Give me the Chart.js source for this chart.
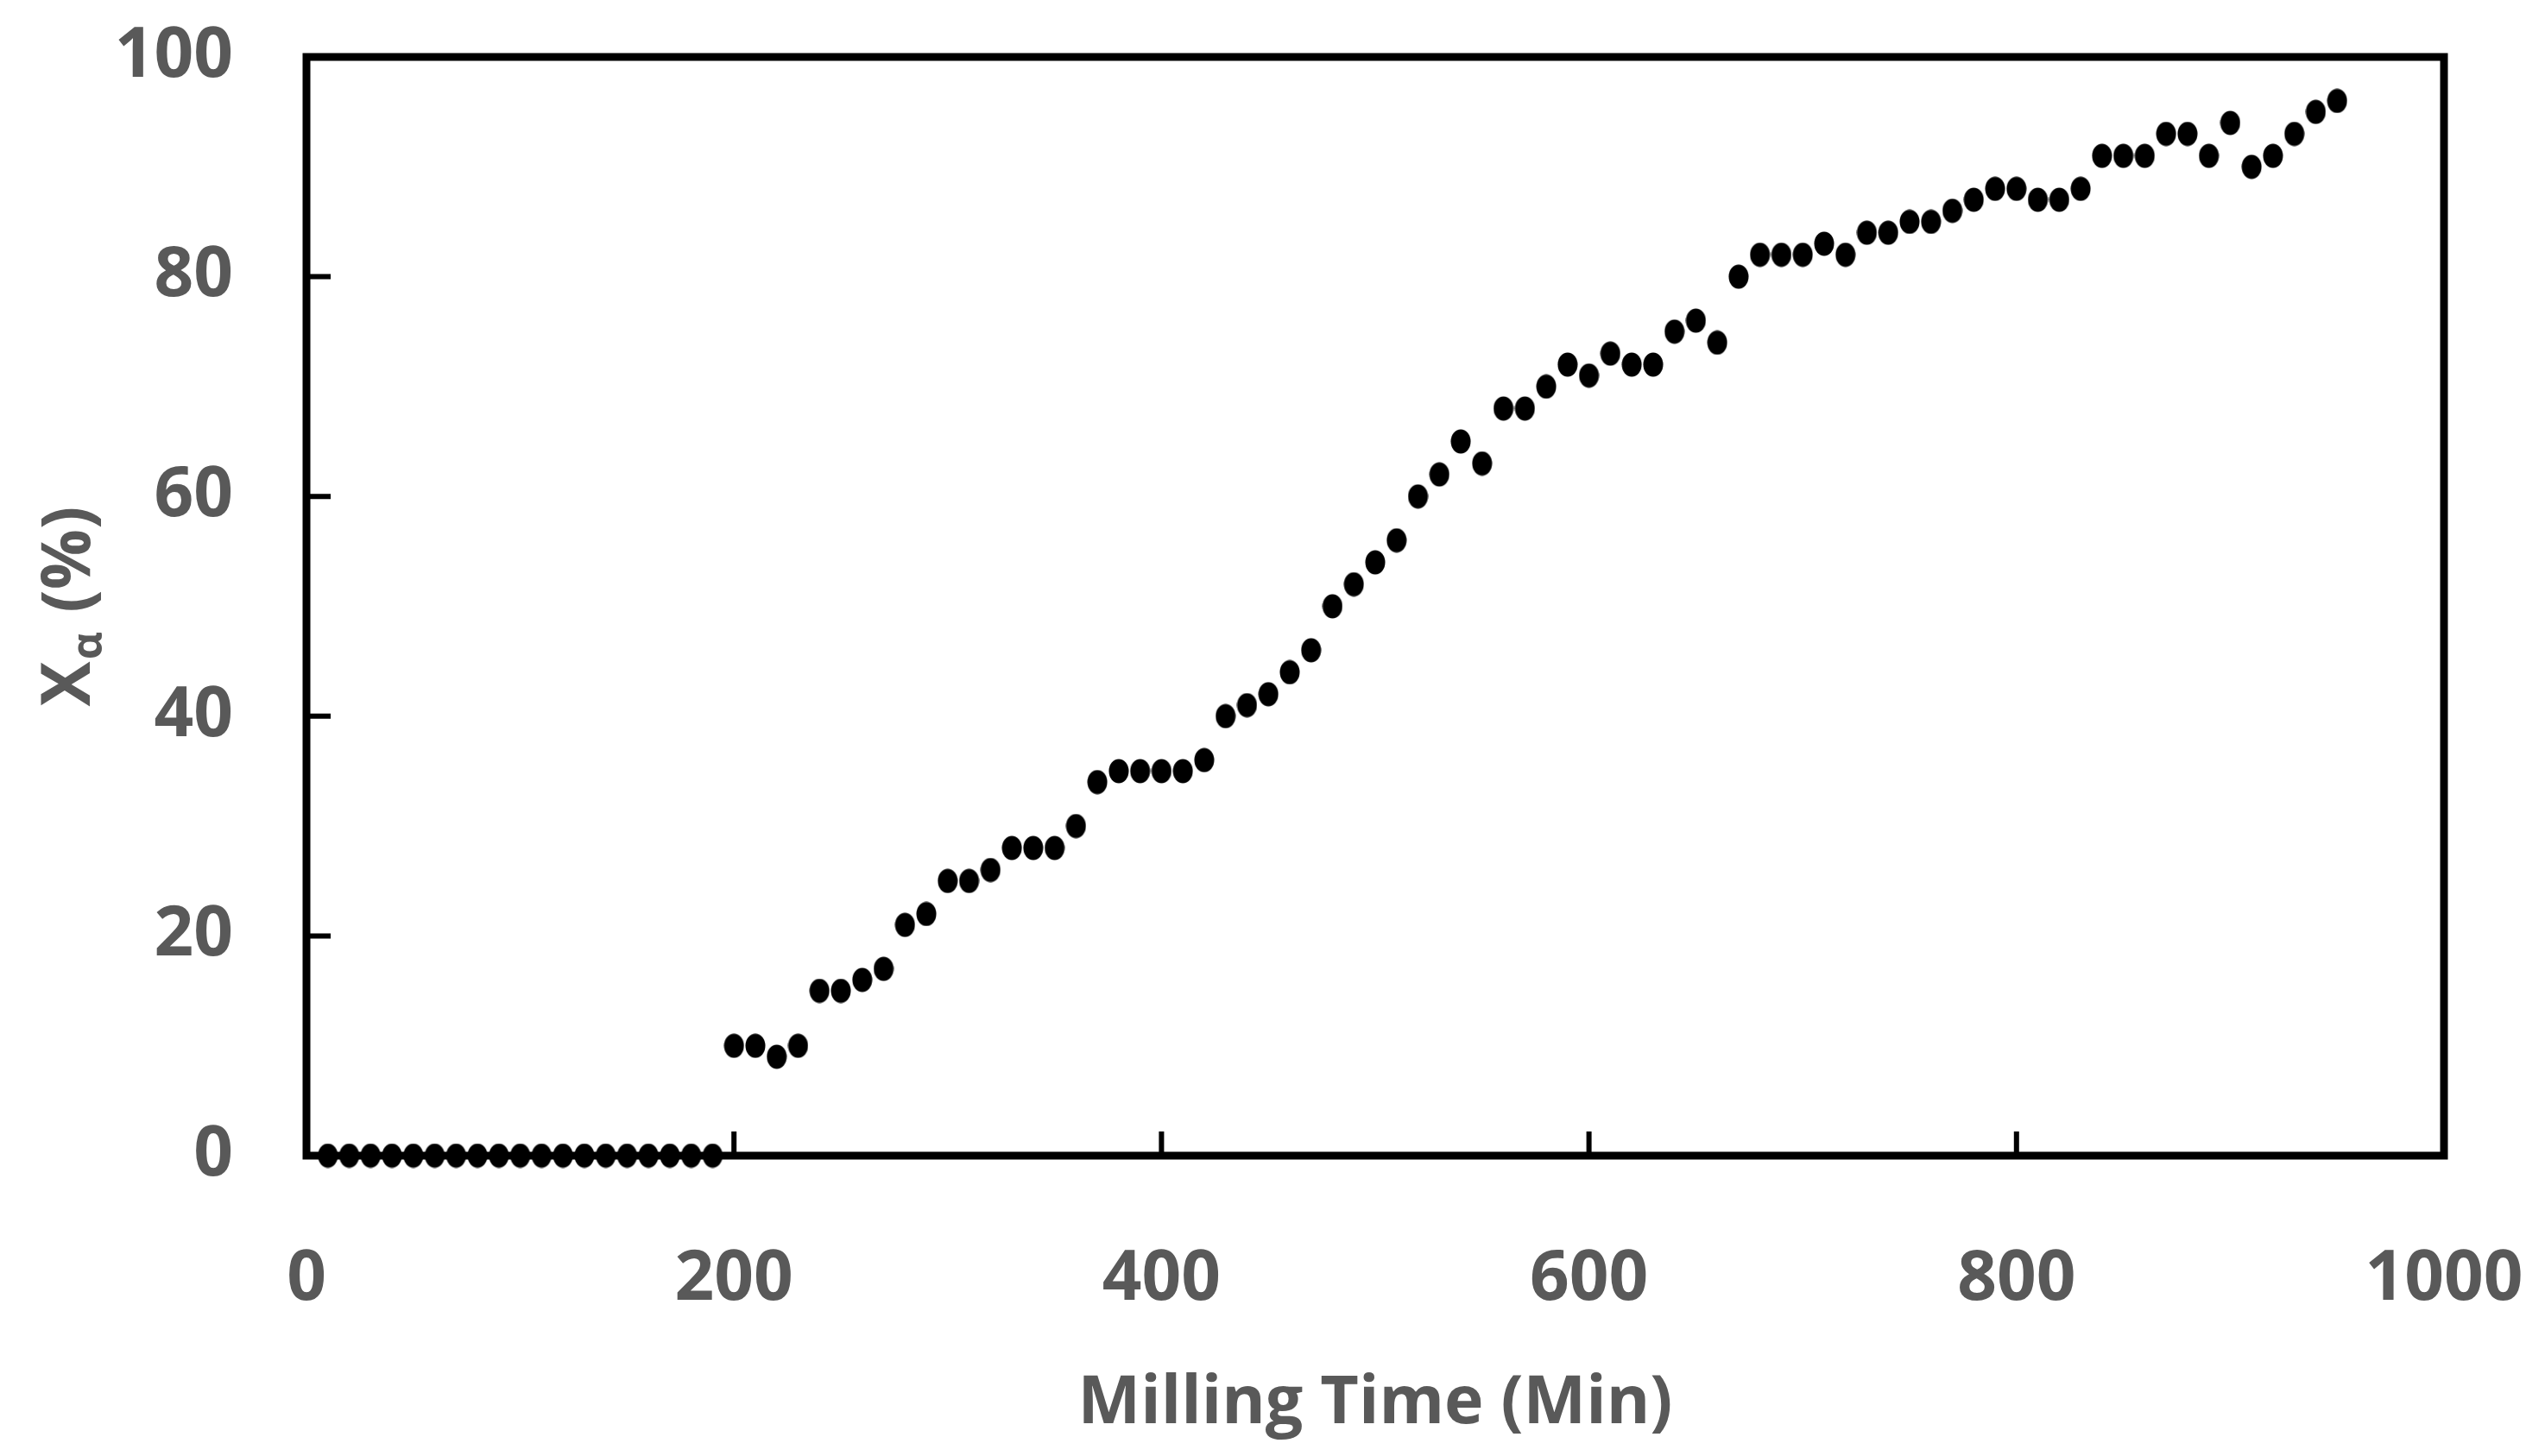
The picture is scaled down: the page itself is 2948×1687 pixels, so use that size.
<!DOCTYPE html>
<html>
<head>
<meta charset="utf-8">
<script src="https://cdn.jsdelivr.net/npm/chart.js@4.4.1/dist/chart.umd.min.js"></script>
<style>
  html, body { margin: 0; padding: 0; background: #ffffff; }
  #wrap { width: 2948px; height: 1687px; position: relative; }
</style>
</head>
<body>
<div id="wrap"><canvas id="c"></canvas></div>
<script>
// ---- data ----
const millingTime = [10,20,30,40,50,60,70,80,90,100,110,120,130,140,150,160,170,180,190,
  200,210,220,230,240,250,260,270,280,290,300,310,320,330,340,350,360,370,380,390,400,
  410,420,430,440,450,460,470,480,490,500,510,520,530,540,550,560,570,580,590,600,
  610,620,630,640,650,660,670,680,690,700,710,720,730,740,750,760,770,780,790,800,
  810,820,830,840,850,860,870,880,890,900,910,920,930,940,950];
const xAlpha = [0,0,0,0,0,0,0,0,0,0,0,0,0,0,0,0,0,0,0,
  10,10,9,10,15,15,16,17,21,22,25,25,26,28,28,28,30,34,35,35,35,
  35,36,40,41,42,44,46,50,52,54,56,60,62,65,63,68,68,70,72,71,
  73,72,72,75,76,74,80,82,82,82,83,82,84,84,85,85,86,87,88,88,
  87,87,88,91,91,91,93,93,91,94,90,91,93,95,96];
const xTicks = [0, 200, 400, 600, 800, 1000];
const yTicks = [0, 20, 40, 60, 80, 100];
const xTitle = 'Milling Time (Min)';
const yTitleMain = 'X';
const yTitleSub = 'α';
const yTitleRest = ' (%)';

// ---- styling ----
const TEXT = '#595959';
const FONT = 'Open Sans';

// elliptical black dot
const dot = document.createElement('canvas');
dot.width = 24; dot.height = 29;
(function(){
  const g = dot.getContext('2d');
  g.fillStyle = '#000';
  g.beginPath();
  g.ellipse(12, 14.5, 11.5, 14, 0, 0, Math.PI * 2);
  g.fill();
})();

function noOverhang(s) {
  s.paddingTop = 0; s.paddingBottom = 0; s.paddingLeft = 0; s.paddingRight = 0;
}

const framePlugin = {
  id: 'framePlugin',
  afterDraw(chart) {
    const {ctx, chartArea: a, scales} = chart;
    ctx.save();
    ctx.strokeStyle = '#000';
    ctx.lineWidth = 9;
    ctx.lineJoin = 'miter';
    ctx.strokeRect(a.left, a.top, a.right - a.left, a.bottom - a.top);
    // inward tick marks
    ctx.lineWidth = 6;
    ctx.beginPath();
    xTicks.forEach(v => {
      const px = scales.x.getPixelForValue(v);
      ctx.moveTo(px, a.bottom);
      ctx.lineTo(px, a.bottom - 28);
    });
    yTicks.forEach(v => {
      const py = scales.y.getPixelForValue(v);
      ctx.moveTo(a.left, py);
      ctx.lineTo(a.left + 28, py);
    });
    ctx.stroke();
    ctx.restore();

    // y-axis title with subscript alpha
    ctx.save();
    const cx = 76, cy = (a.top + a.bottom) / 2;
    ctx.translate(cx, cy);
    ctx.rotate(-Math.PI / 2);
    ctx.fillStyle = TEXT;
    ctx.textBaseline = 'alphabetic';
    const mainFont = 'bold 78px "' + FONT + '"';
    const subFont = 'bold 50px "' + FONT + '"';
    ctx.font = mainFont;
    const wX = ctx.measureText(yTitleMain).width;
    const wRest = ctx.measureText(yTitleRest).width;
    ctx.font = subFont;
    const wSub = ctx.measureText(yTitleSub).width;
    const total = wX + wSub + 4 + wRest;
    let x0 = -total / 2;
    const base = 28;
    ctx.font = mainFont;
    ctx.fillText(yTitleMain, x0, base);
    ctx.font = subFont;
    ctx.fillText(yTitleSub, x0 + wX + 2, base + 14);
    ctx.font = mainFont;
    ctx.fillText(yTitleRest, x0 + wX + wSub + 4, base);
    ctx.restore();
  }
};

new Chart(document.getElementById('c'), {
  type: 'scatter',
  data: {
    datasets: [{
      data: millingTime.map((t, i) => ({x: t, y: xAlpha[i]})),
      pointStyle: dot,
      pointRadius: 12,
      backgroundColor: '#000',
      borderColor: '#000',
      clip: false
    }]
  },
  options: {
    responsive: true,
    maintainAspectRatio: false,
    devicePixelRatio: 1,
    animation: false,
    layout: { padding: { top: 66, right: 117, left: 0, bottom: 0 } },
    plugins: { legend: { display: false }, tooltip: { enabled: false } },
    scales: {
      x: {
        type: 'linear',
        min: 0, max: 1000,
        afterBuildTicks(s) { s.ticks = xTicks.map(v => ({value: v})); },
        afterFit(s) { s.height = 348; noOverhang(s); },
        grid: { display: false, drawTicks: false },
        border: { display: false },
        ticks: {
          color: TEXT,
          font: { family: FONT, size: 80, weight: 'bold' },
          padding: 96,
          maxRotation: 0,
          callback: v => String(v)
        },
        title: {
          display: true,
          text: xTitle,
          color: TEXT,
          font: { family: FONT, size: 77, weight: 'bold', lineHeight: 1.2 },
          padding: { top: 0, bottom: 14 }
        }
      },
      y: {
        type: 'linear',
        min: 0, max: 100,
        afterBuildTicks(s) { s.ticks = yTicks.map(v => ({value: v})); },
        afterFit(s) { s.width = 355; noOverhang(s); },
        grid: { display: false, drawTicks: false },
        border: { display: false },
        ticks: {
          color: TEXT,
          font: { family: FONT, size: 80, weight: 'bold' },
          padding: 85,
          callback: v => String(v)
        }
      }
    }
  },
  plugins: [framePlugin]
});
</script>
</body>
</html>
